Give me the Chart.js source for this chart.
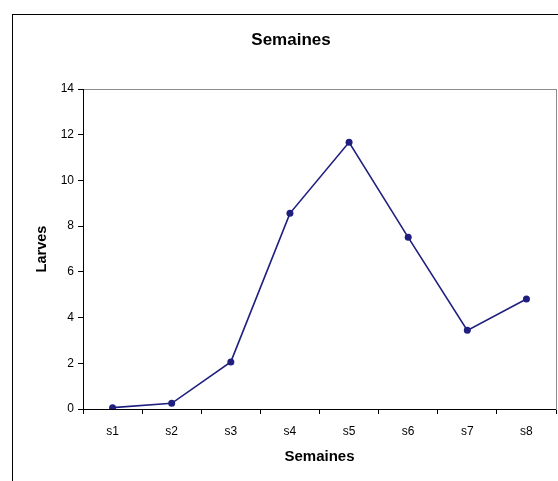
<!DOCTYPE html>
<html>
<head>
<meta charset="utf-8">
<script src="https://cdn.jsdelivr.net/npm/chart.js@4"></script>
<style>
    html, body { margin: 0; padding: 0; background: #fff; }
    #wrap { position: relative; width: 558px; height: 481px; overflow: hidden; }
    #frame { position: absolute; left: 12px; top: 14px; width: 600px; height: 600px; border: 1px solid #000; box-sizing: border-box; }
    #holder { position: absolute; left: 0; top: 0; width: 582px; height: 481px; }
</style>
</head>
<body>
<div id="wrap">
    <div id="frame"></div>
    <div id="holder"><canvas id="larvesChart" width="582" height="481"></canvas></div>
</div>
<script>
const semaines = ["s1", "s2", "s3", "s4", "s5", "s6", "s7", "s8"];
const larves = [0.06, 0.25, 2.06, 8.56, 11.67, 7.51, 3.44, 4.81];
const yTicks = [0, 2, 4, 6, 8, 10, 12, 14];

document.addEventListener("DOMContentLoaded", () => {
    const canvas = document.getElementById("larvesChart");
    const navy = "#1f1f7f";
    const font = "'Liberation Sans', Arial, sans-serif";

    new Chart(canvas, {
        type: "line",
        data: {
            labels: semaines,
            datasets: [
                {
                    label: "Larves",
                    data: larves,
                    borderColor: navy,
                    backgroundColor: navy,
                    borderWidth: 1.6,
                    pointRadius: 3.5,
                    pointBorderWidth: 0,
                    tension: 0,
                    yAxisID: "y",
                    xAxisID: "x"
                }
            ]
        },
        options: {
            responsive: false,
            animation: false,
            layout: { padding: 0 },
            plugins: {
                legend: { display: false },
                tooltip: { enabled: false },
                title: {
                    display: true,
                    text: "Semaines",
                    color: "#000",
                    font: { family: font, size: 17, weight: "bold" },
                    padding: { top: 30, bottom: 38.6 }
                }
            },
            scales: {
                x: {
                    type: "category",
                    position: "bottom",
                    offset: true,
                    grid: { display: true, drawOnChartArea: false, offset: true, tickLength: 5, color: "#000" },
                    border: { color: "#000", width: 1 },
                    ticks: { color: "#000", font: { family: font, size: 12 }, padding: 10, maxRotation: 0 },
                    title: {
                        display: true,
                        text: "Semaines",
                        color: "#000",
                        font: { family: font, size: 15, weight: "bold" },
                        padding: { top: 0, bottom: 15 }
                    },
                    afterFit: s => { s.height = 72; }
                },
                x2: {
                    type: "category",
                    position: "top",
                    grid: { display: false },
                    border: { color: "#8c8c8c", width: 1 },
                    ticks: { display: false },
                    afterFit: s => { s.height = 0; }
                },
                y: {
                    position: "left",
                    min: 0,
                    max: 14,
                    afterBuildTicks: s => { s.ticks = yTicks.map(v => ({ value: v })); },
                    grid: { display: true, drawOnChartArea: false, tickLength: 5, color: "#000" },
                    border: { color: "#000", width: 1 },
                    ticks: { color: "#000", font: { family: font, size: 12 }, padding: 4 },
                    title: {
                        display: true,
                        text: "Larves",
                        color: "#000",
                        font: { family: font, size: 14.5, weight: "bold" },
                        padding: { top: 33, bottom: 0 }
                    },
                    afterFit: s => { s.width = 83; }
                },
                y2: {
                    position: "right",
                    min: 0,
                    max: 14,
                    grid: { display: false },
                    border: { color: "#8c8c8c", width: 1 },
                    ticks: { display: false },
                    afterFit: s => { s.width = 26; }
                }
            }
        }
    });
});
</script>
</body>
</html>
